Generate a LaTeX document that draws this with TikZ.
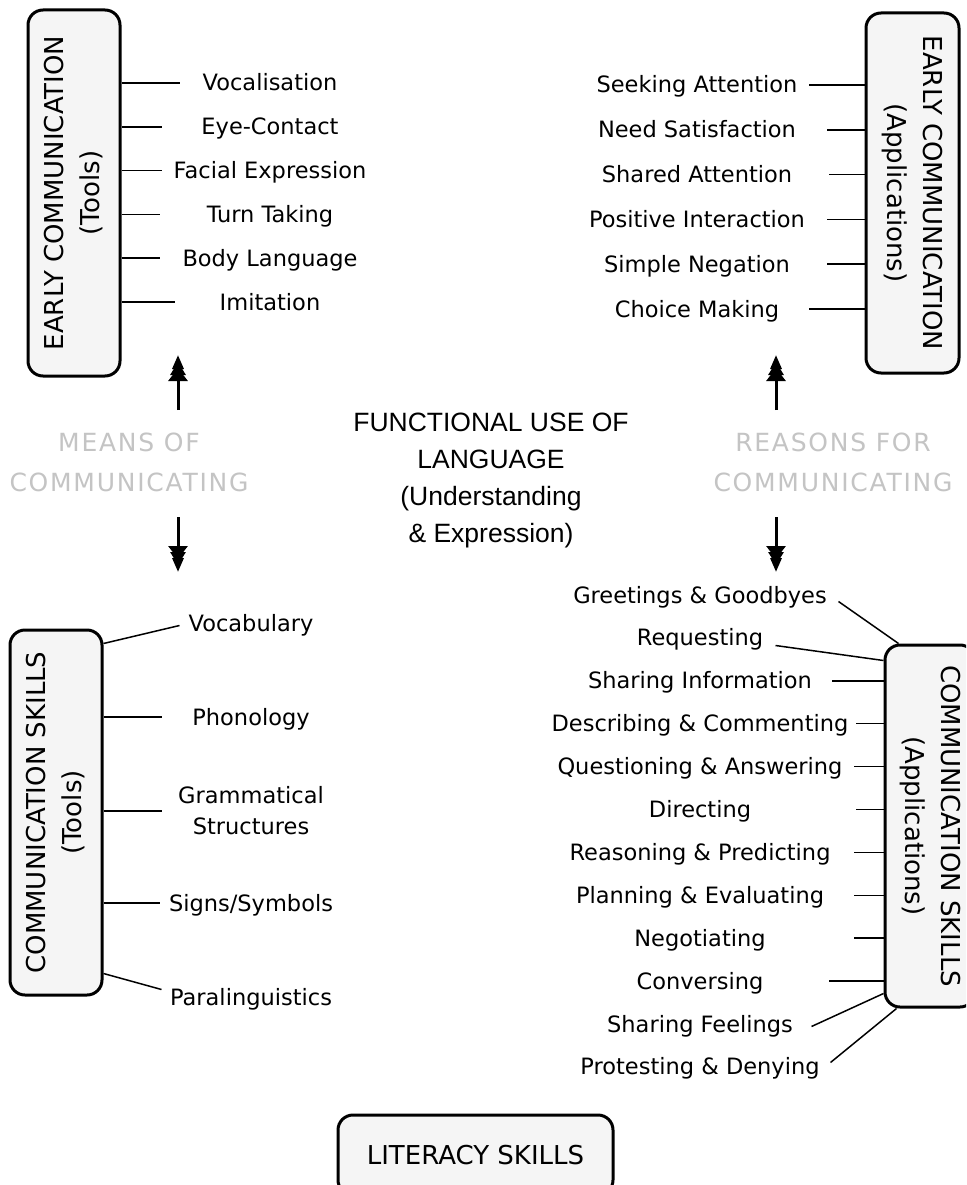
\documentclass[tikz,border=0pt]{standalone}
\usepackage{fontspec}
\setmainfont{DejaVu Sans}
\newfontfamily\headfont{Liberation Sans}
\newfontfamily\ghostfont[LetterSpace=7]{DejaVu Sans}
\usetikzlibrary{
  arrows.meta,
  positioning,
}
\definecolor{boxgrey}{RGB}{245,245,245}
\definecolor{ghostgrey}{RGB}{196,196,196}
\tikzstyle{skillbox} = [
  draw,
  rectangle,
  rounded corners=15pt,
  line width=3pt,
  fill=boxgrey,
  align=center,
  font=\fontsize{26}{36}\selectfont,
]
\tikzstyle{itemtext} = [inner sep=0pt, font=\fontsize{22.5}{31}\selectfont]
\tikzstyle{item} = [itemtext, text height=19pt, text depth=3pt]
\tikzstyle{link} = [line width=1.5pt]
\tikzstyle{bigarrow} = [
  line width=3pt,
  -{Triangle[width=19pt,length=13pt,sep=-7pt]Triangle[width=15pt,length=13pt,sep=-7pt]Triangle[width=11pt,length=14pt]},
]

\begin{document}
\begin{tikzpicture}[x=1pt,y=-1pt,node distance=21.4pt]
        \useasboundingbox (0,0) rectangle (966,1185);
        \clip (0,0) rectangle (966,1185);
        \fill[white] (0,0) rectangle (966,1185);

        \node[skillbox,rotate=90,minimum width=366pt,minimum height=92pt]    (ect)  at (74,193)      {EARLY COMMUNICATION\\(Tools)};
        \node[skillbox,rotate=-90,minimum width=360pt,minimum height=93pt]   (eca)  at (912.5,193)   {EARLY COMMUNICATION\\(Applications)};
        \node[skillbox,rotate=90,minimum width=365pt,minimum height=92pt]    (cst)  at (56,812.5)    {COMMUNICATION SKILLS\\(Tools)};
        \node[skillbox,rotate=-90,minimum width=362pt,minimum height=90pt]   (csa)  at (930,826)     {COMMUNICATION SKILLS\\(Applications)};
        \node[skillbox,minimum width=275pt,minimum height=80pt]              (lit)  at (475.5,1155)  {LITERACY SKILLS};

        \node[item]    (voc)  at (270,83)         {Vocalisation};
        \node[item]    (eye)  [below=of voc]      {Eye-Contact};
        \node[item]    (face) [below=of eye]      {Facial Expression};
        \node[item]    (turn) [below=of face]     {Turn Taking};
        \node[item]    (body) [below=of turn]     {Body Language};
        \node[item]    (imit) [below=of body]     {Imitation};

        \node[item]    (seek) at (697,85)            {Seeking Attention};
        \node[item]    (need) [below=22.4pt of seek] {Need Satisfaction};
        \node[item]    (shat) [below=22.4pt of need] {Shared Attention};
        \node[item]    (posi) [below=22.4pt of shat] {Positive Interaction};
        \node[item]    (nega) [below=22.4pt of posi] {Simple Negation};
        \node[item]    (choi) [below=22.4pt of nega] {Choice Making};

        \node[item]    (vocab) at (251,623)   {Vocabulary};
        \node[item]    (phon)  at (251,717)   {Phonology};
        \node[itemtext,align=center] (gram) at (251,811) {Grammatical\\Structures};
        \node[item]    (sign)  at (251,903)   {Signs/Symbols};
        \node[item]    (para)  at (251,997)   {Paralinguistics};

        \node[item]    (greet) at (700,595)             {Greetings \& Goodbyes};
        \node[item]    (requ)  [below=20.5pt of greet]  {Requesting};
        \node[item]    (shin)  [below=20.5pt of requ]   {Sharing Information};
        \node[item]    (desc)  [below=20.5pt of shin]   {Describing \& Commenting};
        \node[item]    (ques)  [below=20.5pt of desc]   {Questioning \& Answering};
        \node[item]    (dire)  [below=20.5pt of ques]   {Directing};
        \node[item]    (reas)  [below=20.5pt of dire]   {Reasoning \& Predicting};
        \node[item]    (plan)  [below=20.5pt of reas]   {Planning \& Evaluating};
        \node[item]    (nego)  [below=20.5pt of plan]   {Negotiating};
        \node[item]    (conv)  [below=20.5pt of nego]   {Conversing};
        \node[item]    (shfe)  [below=20.5pt of conv]   {Sharing Feelings};
        \node[item]    (prot)  [below=20.5pt of shfe]   {Protesting \& Denying};

        \node[align=center,font=\headfont\fontsize{26.5}{37}\selectfont] (func) at (491,480)
            {FUNCTIONAL USE OF\\LANGUAGE\\(Understanding\\\& Expression)};
        \node[align=center,text=ghostgrey,font=\ghostfont\fontsize{25}{40}\selectfont] (means) at (129,462)
            {MEANS OF\\COMMUNICATING};
        \node[align=center,text=ghostgrey,font=\ghostfont\fontsize{25}{40}\selectfont] (reasons) at (833,462)
            {REASONS FOR\\COMMUNICATING};

        \draw[link] (ect.south |- voc)  -- +(58,0);
        \draw[link] (ect.south |- eye)  -- +(40,0);
        \draw[link] (ect.south |- face) -- +(40,0);
        \draw[link] (ect.south |- turn) -- +(38,0);
        \draw[link] (ect.south |- body) -- +(38,0);
        \draw[link] (ect.south |- imit) -- +(53,0);

        \draw[link] (eca.south |- seek) -- +(-56,0);
        \draw[link] (eca.south |- need) -- +(-38,0);
        \draw[link] (eca.south |- shat) -- +(-36,0);
        \draw[link] (eca.south |- posi) -- +(-38,0);
        \draw[link] (eca.south |- nega) -- +(-38,0);
        \draw[link] (eca.south |- choi) -- +(-56,0);

        \draw[link] ([yshift=-15pt]cst.south east) -- +(76,-18);
        \draw[link] (cst.south |- phon) -- +(58,0);
        \draw[link] (cst.south |- gram) -- +(58,0);
        \draw[link] (cst.south |- sign) -- +(56,0);
        \draw[link] ([yshift=23pt]cst.south west) -- +(58,16);

        \draw[link] ([xshift=15pt]csa.south west) -- +(-60,-42);
        \draw[link] ([yshift=-17pt]csa.south west) -- +(-108,-15);
        \draw[link] (csa.south |- shin) -- +(-52,0);
        \draw[link] (csa.south |- desc) -- +(-28,0);
        \draw[link] (csa.south |- ques) -- +(-30,0);
        \draw[link] (csa.south |- dire) -- +(-28,0);
        \draw[link] (csa.south |- reas) -- +(-30,0);
        \draw[link] (csa.south |- plan) -- +(-30,0);
        \draw[link] (csa.south |- nego) -- +(-30,0);
        \draw[link] (csa.south |- conv) -- +(-55,0);
        \draw[link] ([yshift=15pt]csa.south east) -- +(-72,33);
        \draw[link] ([xshift=13pt]csa.south east) -- +(-66,54);

        \coordinate (lup)   at (178,355);
        \coordinate (lmid1) at (178,410);
        \coordinate (lmid2) at (178,517);
        \coordinate (ldown) at (178,572);
        \coordinate (rup)   at (776,355);
        \coordinate (rmid1) at (776,410);
        \coordinate (rmid2) at (776,517);
        \coordinate (rdown) at (776,572);
        \draw[bigarrow] (lmid1) -- (lup);
        \draw[bigarrow] (lmid2) -- (ldown);
        \draw[bigarrow] (rmid1) -- (rup);
        \draw[bigarrow] (rmid2) -- (rdown);
    \end{tikzpicture}
\end{document}
